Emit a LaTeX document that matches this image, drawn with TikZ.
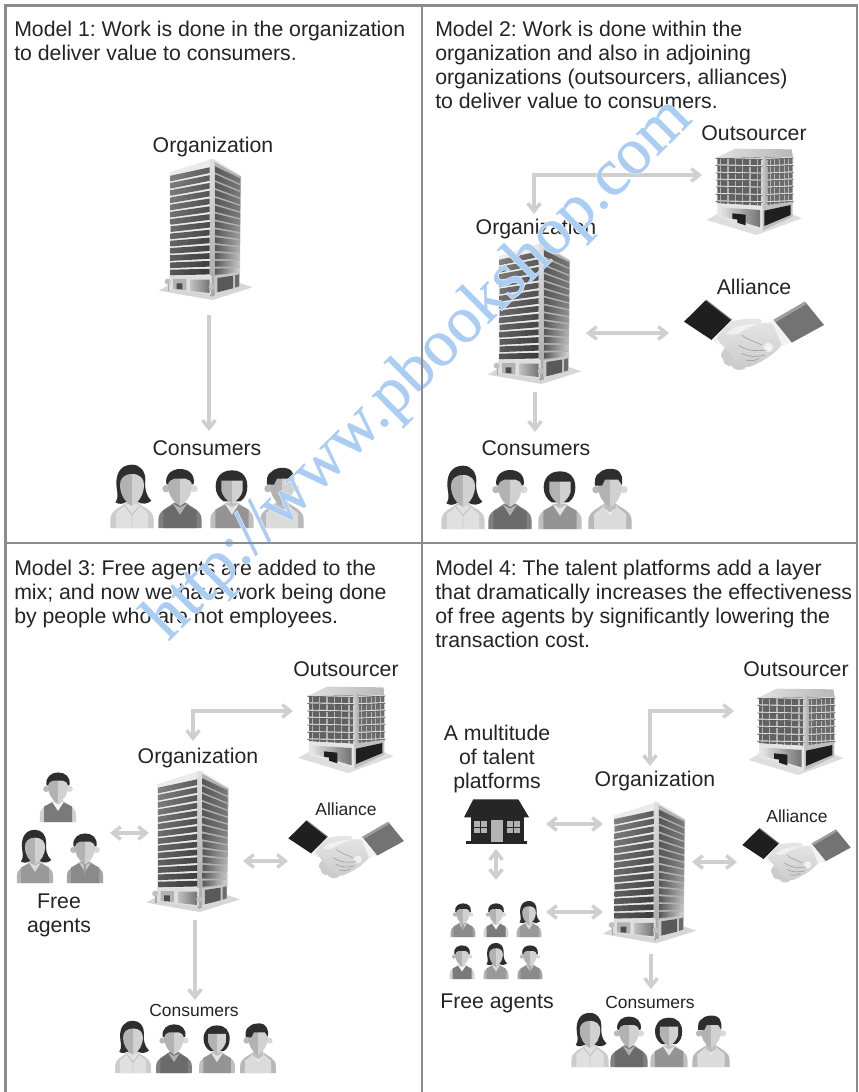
\documentclass[tikz,border=0pt]{standalone}
\usepackage{fontspec}
\usetikzlibrary{arrows.meta}
\setmainfont{Liberation Sans}
\newfontfamily\wmfont[FakeBold=0.5]{Liberation Serif}
\newfontfamily\wmhalo[FakeBold=1.8]{Liberation Serif}
\definecolor{ink}{gray}{0.14}
\definecolor{arrgray}{gray}{0.81}
\definecolor{rule}{gray}{0.55}
\definecolor{wmblue}{HTML}{ABCDF1}
% ---- people parts (coordinates: zoom pixels, base centre = origin after shift)
\newcommand{\PShoulders}[1]{\fill[#1] (-65,190) -- (-65,166) .. controls (-65,135) and (-35,130) .. (-18,114) -- (18,114) .. controls (35,130) and (65,135) .. (65,166) -- (65,190) -- cycle;}
\newcommand{\PVest}[1]{\fill[#1] (-50,190) -- (-50,135) -- (-20,120) -- (0,150) -- (20,120) -- (50,135) -- (50,190) -- cycle;}
\newcommand{\PCollar}[1]{\fill[#1] (-22,116) -- (0,150) -- (22,116) -- (0,128) -- cycle;}
\newcommand{\PFace}{\fill[black!30] (0,28) .. controls (-24,28) and (-36,42) .. (-36,60) .. controls (-36,88) and (-22,112) .. (0,124) -- cycle;
 \fill[black!18] (0,28) .. controls (24,28) and (36,42) .. (36,60) .. controls (36,88) and (22,112) .. (0,124) -- cycle;}
\newcommand{\PEars}{\fill[black!28] (-42,72) circle (11); \fill[black!15] (42,72) circle (11);}
\newcommand{\PHairShort}{\fill[black!82] (-41,58) .. controls (-46,28) and (-22,13) .. (0,13) .. controls (25,13) and (46,28) .. (41,58) -- (36,60) .. controls (34,50) and (28,44) .. (18,42) -- (-18,42) .. controls (-28,44) and (-34,50) .. (-36,60) -- cycle;}
\newcommand{\PHairLong}{\fill[black!82] (0,0) .. controls (-33,0) and (-47,25) .. (-47,55) .. controls (-47,80) and (-37,95) .. (-50,113) .. controls (-38,120) and (-28,118) .. (-18,112) -- (18,112) .. controls (30,120) and (48,118) .. (58,108) .. controls (40,90) and (38,70) .. (40,45) .. controls (40,20) and (25,0) .. (0,0) -- cycle;}
\newcommand{\PHairBob}{\fill[black!82] (0,17) .. controls (-32,17) and (-49,38) .. (-49,65) .. controls (-49,85) and (-40,100) .. (-25,110) -- (25,110) .. controls (40,100) and (46,85) .. (46,65) .. controls (46,38) and (32,17) .. (0,17) -- cycle;}
\newcommand{\PHairSide}{\fill[black!82] (-45,60) .. controls (-45,45) and (-48,30) .. (-30,20) .. controls (-15,5) and (25,5) .. (32,25) .. controls (38,35) and (37,45) .. (36,58) -- (25,42) -- (-15,42) -- (-24,60) -- cycle;}
\tikzset{
 pics/pW/.style={code={\begin{scope}[shift={(0,-190)}]
   \PHairLong \PShoulders{black!20} \fill[black!12] (-48,190) -- (-48,145) -- (-15,118) -- (15,118) -- (48,145) -- (48,190) -- cycle;
   \PFace
   \draw[black!35,line width=.3pt] (-20,125) -- (0,150) -- (22,125) (0,150) -- (0,190);
  \end{scope}}},
 pics/pM/.style={code={\begin{scope}[shift={(0,-190)}]
   \PShoulders{black!50} \fill[black!58] (-50,190) -- (-50,138) -- (-18,118) -- (18,118) -- (50,138) -- (50,190) -- cycle;
   \PCollar{black!30} \PEars \PFace \PHairShort
  \end{scope}}},
 pics/pB/.style={code={\begin{scope}[shift={(0,-190)}]
   \PHairBob \PShoulders{black!25} \PVest{black!42} \PCollar{black!10}
   \fill[black!30] (0,48) -- (-32,48) -- (-32,78) .. controls (-28,95) and (-15,108) .. (0,118) -- cycle;
   \fill[black!18] (0,48) -- (32,48) -- (32,78) .. controls (28,95) and (15,108) .. (0,118) -- cycle;
  \end{scope}}},
 pics/pS/.style={code={\begin{scope}[shift={(0,-190)}]
   \PShoulders{black!28} \fill[black!14] (-48,190) -- (-48,145) -- (-15,118) -- (15,118) -- (48,145) -- (48,190) -- cycle;
   \PCollar{black!7} \fill[black!25] (-16,100) -- (16,100) -- (18,126) -- (0,140) -- (-18,126) -- cycle;
   \PEars \PFace \PHairSide
  \end{scope}}},
 pics/pV/.style={code={\begin{scope}[shift={(0,-190)}]
   \PShoulders{black!18} \PVest{black!52} \PCollar{black!3}
   \PEars \PFace \PHairShort
  \end{scope}}},
 pics/pT/.style={code={\begin{scope}[shift={(0,-190)}]
   \PShoulders{black!36} \PVest{black!46} \PCollar{black!20} \fill[black!38] (-5,125) -- (5,125) -- (0,170) -- cycle;
   \PEars \PFace \PHairShort
  \end{scope}}},
 pics/pL/.style={code={\begin{scope}[shift={(0,-190)}]
   \PHairLong \PShoulders{black!30} \PVest{black!40} \PCollar{black!14}
   \PFace
  \end{scope}}},
 pics/tower/.style={code={
   \fill[black!16] (180,485) -- (340,513) -- (460,475) -- (385,450) -- (230,455) -- cycle;
   \fill[black!8] (212,130) -- (338,90) -- (345,90) -- (427,140) -- (421,470) -- (340,497) -- (212,480) -- cycle;
   \shade[top color=black!12,bottom color=black!35] (333,90) rectangle (346,500);
   \fill[black!30] (347,98) -- (426,143) -- (421,470) -- (347,492) -- cycle;
   \foreach \i in {0,...,13} {
     \pgfmathsetmacro{\yl}{140+\i*21.7}
     \pgfmathsetmacro{\yr}{115+\i*23.4}
     \pgfmathsetmacro{\da}{50+\i*1.2}
     \pgfmathsetmacro{\db}{64+\i*1}
     \shade[left color=black!\da,right color=black!\db] (215,\yl) -- (332,\yr) -- (332,\yr+17) -- (215,\yl+17) -- cycle;
   }
   \foreach \i in {0,...,13} {
     \pgfmathsetmacro{\ya}{112+\i*23.6}
     \pgfmathsetmacro{\yb}{148+\i*20.7}
     \pgfmathsetmacro{\cr}{\i<6 ? 52 : 52-(\i-5)*4.5}
     \shade[left color=black!66,right color=black!\cr] (348,\ya) -- (423,\yb) -- (423,\yb+16) -- (348,\ya+18) -- cycle;
   }
   \fill[black!13] (212,440) -- (338,440) -- (338,497) -- (212,480) -- cycle;
   \fill[black!22] (346,442) -- (422,428) -- (421,470) -- (346,492) -- cycle;
   \fill[black!30] (222,450) -- (262,450) -- (262,484) -- (222,480) -- cycle;
   \fill[black!70] (233,463) -- (250,463) -- (250,481) -- (233,480) -- cycle;
   \shade[left color=black!25,right color=black!55] (275,452) -- (332,452) -- (332,492) -- (275,486) -- cycle;
   \fill[black!65] (355,447) -- (402,440) -- (402,478) -- (355,490) -- cycle;
   \fill[black!58] (408,439) -- (420,436) -- (420,472) -- (408,476) -- cycle;
   \fill[black!35] (206,462) rectangle (210,487);
   \fill[black!25] (206,458) circle (9);
   \fill[black!35] (336,478) rectangle (340,505);
   \fill[black!25] (338,474) circle (9);
 }},
 pics/office/.style={code={
   \fill[black!13] (20,300) -- (170,345) -- (305,295) -- (240,265) -- (80,265) -- cycle;
   \shade[left color=black!12,right color=black!28] (50,113) -- (105,86) -- (275,88) -- (279,112) -- (188,112) -- cycle;
   \fill[black!62] (52,113) -- (188,112) -- (188,258) -- (52,250) -- cycle;
   \fill[black!58] (200,112) -- (278,112) -- (278,250) -- (200,258) -- cycle;
   \shade[left color=black!18,right color=black!35] (185,110) rectangle (202,262);
   \foreach \x in {62,84,...,172} \draw[black!30,line width=.9pt] (\x,113) -- (\x,255);
   \foreach \x in {210,224,...,272} \draw[black!30,line width=.6pt] (\x,113) -- (\x,254);
   \foreach \y in {113,135,157,178,199,221,243} {
     \draw[black!14,line width=1.1pt] (47,\y) -- (187,\y+3);
     \draw[black!14,line width=1.1pt] (200,\y+3) -- (281,\y-1);
     \draw[black!75,line width=.35pt] (47,\y+2) -- (187,\y+5) (200,\y+5) -- (281,\y+1);
   }
   \fill[black!10] (52,250) -- (188,257) -- (188,332) -- (52,290) -- cycle;
   \fill[black!25] (188,257) -- (278,245) -- (278,290) -- (188,332) -- cycle;
   \shade[left color=black!10,right color=black!55] (58,262) -- (180,270) -- (180,322) -- (58,285) -- cycle;
   \fill[black!88] (97,280) -- (137,284) -- (137,316) -- (112,308) -- (112,298) -- (97,296) -- cycle;
   \fill[black!88] (193,272) -- (272,255) -- (272,285) -- (193,318) -- cycle;
 }},
 pics/shake/.style={code={
   \fill[black!55] (310,150) -- (405,95) -- (462,165) -- (365,218) -- cycle;
   \fill[black!38] (310,150) -- (405,95) -- (410,102) -- (316,157) -- cycle;
   \fill[black!88] (42,155) -- (108,90) -- (185,150) -- (125,210) -- cycle;
   \draw[black!50,line width=.7pt] (108,90) -- (185,150);
   \fill[black!5] (125,210) -- (185,150) -- (205,165) -- (150,225) -- cycle;
   \fill[black!5] (310,150) -- (365,218) -- (335,228) -- (285,165) -- cycle;
   \fill[black!20] (165,235) .. controls (150,250) and (150,262) .. (160,268) .. controls (158,280) and (170,290) .. (185,288) .. controls (192,300) and (210,305) .. (225,295) -- (245,250) -- cycle;
   \shade[top color=black!10,bottom color=black!20] (140,205) .. controls (160,175) and (175,150) .. (205,150) .. controls (230,145) and (255,145) .. (272,148) .. controls (278,152) and (276,158) .. (268,160) .. controls (285,158) and (300,155) .. (310,165) -- (335,225) .. controls (320,245) and (290,270) .. (240,290) .. controls (220,295) and (205,285) .. (190,265) -- cycle;
   \fill[black!6] (170,190) .. controls (185,170) and (225,162) .. (268,160) .. controls (240,170) and (225,178) .. (205,190) .. controls (195,195) and (180,195) .. (170,190) -- cycle;
   \fill[black!5] (295,232) circle (14);
   \draw[black!40,line width=.4pt] (215,195) .. controls (235,210) and (255,215) .. (275,225)
      (205,225) .. controls (225,240) and (250,245) .. (290,240)
      (215,250) .. controls (235,260) and (255,262) .. (285,255)
      (228,270) .. controls (240,275) and (255,272) .. (268,265);
 }},
 lab/.style={text=ink,font=\fontsize{15.95}{18}\selectfont,inner sep=0pt,anchor=base},
 smalllab/.style={text=ink,font=\fontsize{13.1}{16}\selectfont,inner sep=0pt,anchor=base},
 para/.style={text=ink,font=\fontsize{15.95}{18}\selectfont,inner sep=0pt,anchor=north west,align=left},
 both/.style={draw=arrgray,line width=3pt,line join=miter,{Straight Barb[length=6pt,width=9.5pt,line width=2.6pt]}-{Straight Barb[length=6pt,width=9.5pt,line width=2.6pt]}},
 onehead/.style={draw=arrgray,line width=3pt,-{Straight Barb[length=6pt,width=9.5pt,line width=2.6pt]}},
 frame/.style={draw=rule,line width=1.9pt},
 wm/.style={inner sep=0pt,anchor=base west,rotate=44.8},
}
\begin{document}
\frenchspacing
\begin{tikzpicture}[x=0.75pt,y=-0.75pt]
\useasboundingbox (0,0) rectangle (858,1092);
\fill[white] (0,0) rectangle (858,1092);
% ---- panel texts
\node[para] (t1) at (14,21) {Model 1: Work is done in the organization\\to deliver value to consumers.};
\node[para] (t2) at (435,21) {Model 2: Work is done within the\\organization and also in adjoining\\organizations (outsourcers, alliances)\\to deliver value to consumers.};
\node[para] (t3) at (14,560) {Model 3: Free agents are added to the\\mix; and now we have work being done\\by people who are not employees.};
\node[para] (t4) at (435,560) {Model 4: The talent platforms add a layer\\that dramatically increases the effectiveness\\of free agents by significantly lowering the\\transaction cost.};
% ---- labels
\node[lab] (o1) at (213,152) {Organization};
\node[lab] (c1) at (207,455) {Consumers};
\node[lab] (s2) at (754,140) {Outsourcer};
\node[lab] (o2) at (536,234) {Organization};
\node[lab] (a2) at (754,294) {Alliance};
\node[lab] (c2) at (536,455) {Consumers};
\node[lab] (s3) at (346,676) {Outsourcer};
\node[lab] (o3) at (198,763) {Organization};
\node[smalllab] (a3) at (346,815) {Alliance};
\node[lab] (f3a) at (59,908) {Free};
\node[lab] (f3b) at (59,932) {agents};
\node[smalllab] (c3) at (194,1016) {Consumers};
\node[lab] (s4) at (796,676) {Outsourcer};
\node[lab] (m4a) at (497,740) {A multitude};
\node[lab] (m4b) at (497,764) {of talent};
\node[lab] (m4c) at (497,788) {platforms};
\node[lab] (o4) at (655,786) {Organization};
\node[smalllab] (a4) at (797,822) {Alliance};
\node[lab] (f4) at (497,1008) {Free agents};
\node[smalllab] (c4) at (650,1008) {Consumers};
% ---- buildings
\pic[scale=1/3] at (99,129) {tower};
\pic[scale=1/3] at (428,213) {tower};
\pic[scale=1/3] at (86.5,741) {tower};
\pic[scale=1/3] at (543,772.3) {tower};
\pic[scale=1/3] at (700,120) {office};
\pic[scale=1/3] at (291.7,658) {office};
\pic[scale=1/3] at (741.7,660) {office};
% ---- handshakes
\pic[scale=1/3] at (670,270) {shake};
\pic[scale=.275] at (276.8,795.7) {shake};
\pic[scale=.258] at (731.5,805) {shake};
% ---- consumers
\pic[scale=1/3] at (132,528) {pW};
\pic[scale=1/3] at (180,528) {pM};
\pic[scale=1/3] at (232,528) {pB};
\pic[scale=1/3] at (282,528) {pS};
\pic[scale=1/3] at (463,529) {pW};
\pic[scale=1/3] at (510,529) {pM};
\pic[scale=1/3] at (560,529) {pB};
\pic[scale=1/3] at (610,529) {pS};
\pic[scale=.275] at (133,1073) {pW};
\pic[scale=.275] at (174,1073) {pM};
\pic[scale=.275] at (217,1073) {pB};
\pic[scale=.275] at (258,1073) {pS};
\pic[scale=.285] at (590,1067) {pW};
\pic[scale=.285] at (629,1067) {pM};
\pic[scale=.285] at (669,1067) {pB};
\pic[scale=.285] at (711,1067) {pS};
% ---- free agents, model 3
\pic[scale=.28] at (58,822) {pV};
\pic[scale=.28] at (35,883) {pL};
\pic[scale=.28] at (85,883) {pT};
% ---- free agents, model 4
\pic[scale=.19] at (463,937) {pT};
\pic[scale=.19] at (496,937) {pV};
\pic[scale=.19] at (529,937) {pL};
\pic[scale=.19] at (462,979) {pV};
\pic[scale=.19] at (496,979) {pL};
\pic[scale=.19] at (530,979) {pT};
% ---- house
\fill[black!85] (473.3,799.3) -- (518.3,799.3) -- (529,817.3) -- (464,817.3) -- cycle;
\fill[black!85] (470.7,817) rectangle (524.3,843.5);
\fill[black!85] (466,841) rectangle (526.7,844.3);
\fill[black!30] (490.7,820) rectangle (503.3,841.7);
\fill[black!30] (474,820.7) rectangle (486.7,833.3);
\fill[black!30] (507.3,820.7) rectangle (520,833.3);
\draw[black!85,line width=.7pt] (480.3,820.7) -- (480.3,833.3) (474,827) -- (486.7,827) (513.7,820.7) -- (513.7,833.3) (507.3,827) -- (520,827);
% ---- connectors
\coordinate (m1a) at (209,315); \coordinate (m1b) at (209,431);
\draw[onehead] (m1a) -- (m1b);
\coordinate (m2e1) at (702,175); \coordinate (m2c) at (534,175); \coordinate (m2e2) at (534,214);
\draw[both] (m2e1) -- (m2c) -- (m2e2);
\coordinate (m2h1) at (586,333); \coordinate (m2h2) at (669,333);
\draw[both] (m2h1) -- (m2h2);
\coordinate (m2d1) at (535,392); \coordinate (m2d2) at (535,432);
\draw[onehead] (m2d1) -- (m2d2);
\coordinate (m3e1) at (293,711); \coordinate (m3c) at (193,711); \coordinate (m3e2) at (193,741);
\draw[both] (m3e1) -- (m3c) -- (m3e2);
\coordinate (m3f1) at (110,833); \coordinate (m3f2) at (149,833);
\draw[both] (m3f1) -- (m3f2);
\coordinate (m3h1) at (243,861); \coordinate (m3h2) at (288,861);
\draw[both] (m3h1) -- (m3h2);
\coordinate (m3d1) at (195,920); \coordinate (m3d2) at (195,1000);
\draw[onehead] (m3d1) -- (m3d2);
\coordinate (m4e1) at (734,711); \coordinate (m4c) at (650,711); \coordinate (m4e2) at (650,766);
\draw[both] (m4e1) -- (m4c) -- (m4e2);
\coordinate (m4h1) at (692,862); \coordinate (m4h2) at (737,862);
\draw[both] (m4h1) -- (m4h2);
\coordinate (m4p1) at (546,824); \coordinate (m4p2) at (603,824);
\draw[both] (m4p1) -- (m4p2);
\coordinate (m4v1) at (496,849); \coordinate (m4v2) at (496,880);
\draw[both] (m4v1) -- (m4v2);
\coordinate (m4f1) at (546,912); \coordinate (m4f2) at (603,912);
\draw[both] (m4f1) -- (m4f2);
\coordinate (m4d1) at (651,954); \coordinate (m4d2) at (651,989);
\draw[onehead] (m4d1) -- (m4d2);
% ---- watermark
\node[wm] (mark) at (168,642) {\rlap{\wmhalo\fontsize{50}{50}\selectfont\color{white}http://www.pbookshop.com}{\wmfont\fontsize{50}{50}\selectfont\color{wmblue}http://www.pbookshop.com}};
% ---- panel frame
\draw[frame] (5.5,1092) -- (5.5,5.5) -- (857,5.5) -- (857,1092);
\draw[frame] (422,5.5) -- (422,1092);
\draw[frame] (5.5,543) -- (857,543);
\end{tikzpicture}
\end{document}
